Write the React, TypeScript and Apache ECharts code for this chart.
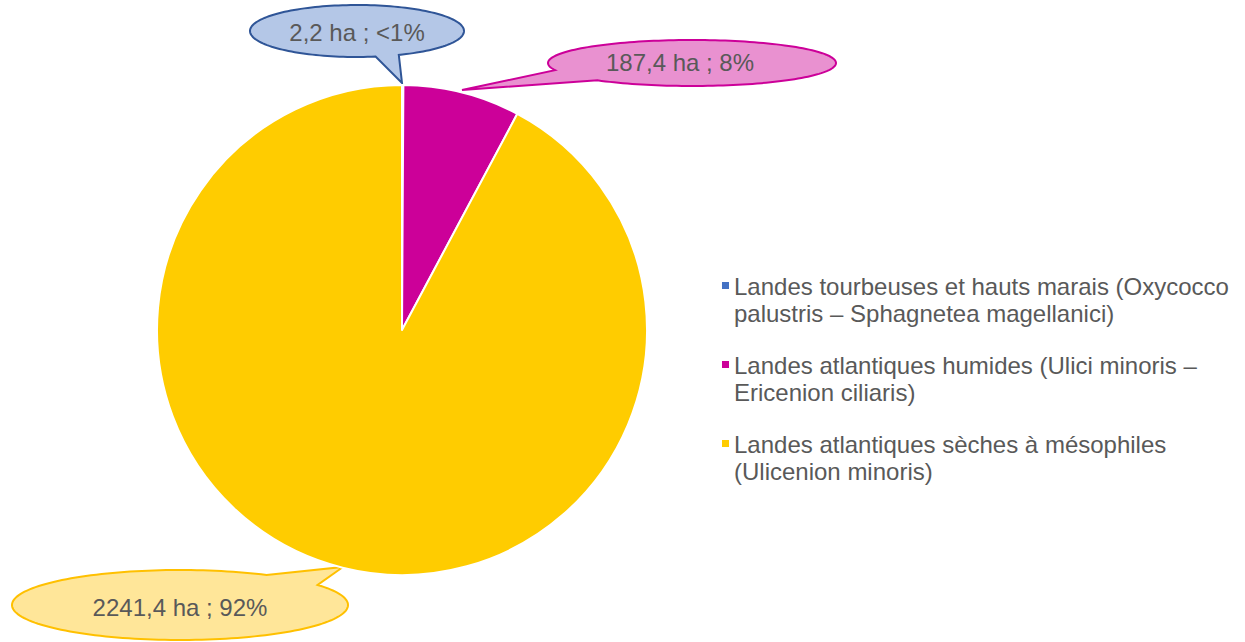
import React, { useEffect, useRef } from "react";
import * as echarts from "echarts";

const names = [
  "Landes tourbeuses et hauts marais (Oxycocco palustris – Sphagnetea magellanici)",
  "Landes atlantiques humides (Ulici minoris – Ericenion ciliaris)",
  "Landes atlantiques sèches à mésophiles (Ulicenion minoris)",
];
const legendLines = [
  "Landes tourbeuses et hauts marais (Oxycocco\npalustris – Sphagnetea magellanici)",
  "Landes atlantiques humides (Ulici minoris –\nEricenion ciliaris)",
  "Landes atlantiques sèches à mésophiles\n(Ulicenion minoris)",
];
const areasHa = [2.2, 187.4, 2241.4];
const sliceColors = ["#4472C4", "#CC0099", "#FFCC00"];
const bubbleFills = ["#B4C7E7", "#E991D0", "#FFE699"];
const bubbleStrokes = ["#2F5597", "#CC0099", "#FFC000"];

// bubble geometry: [cx, cy, rx, ry, gapStartDeg, gapEndDeg, tipX, tipY]
const bubbles = [
  [357, 31, 107, 26, 67, 80, 402, 83],
  [692, 63, 144, 23, 131, 162, 462, 90],
  [180, 605, 168, 35, -59, -35, 343, 567],
];
// label centres inside the bubbles
const labelPos = [
  [357, 32],
  [680, 62],
  [180, 607],
];

function bubblePoints(b: number[]) {
  const [cx, cy, rx, ry, g0, g1, tx, ty] = b;
  const pts: number[][] = [];
  const start = g1;
  const end = g0 + 360;
  const n = 160;
  for (let i = 0; i <= n; i++) {
    const t = ((start + ((end - start) * i) / n) * Math.PI) / 180;
    pts.push([cx + rx * Math.cos(t), cy + ry * Math.sin(t)]);
  }
  pts.push([tx, ty]);
  return pts;
}

const total = areasHa.reduce((a, b) => a + b, 0);
function fmtLabel(v: number) {
  const pct = (v / total) * 100;
  const p = pct < 1 ? "<1%" : Math.round(pct) + "%";
  return v.toFixed(1).replace(".", ",") + " ha ; " + p;
}

export default function App() {
  const ref = useRef<HTMLDivElement>(null);
  useEffect(() => {
    document.body.style.margin = "0";
    const chart = echarts.init(ref.current!, null, { renderer: "svg" });
    const option: any = {
      animation: false,
      backgroundColor: "#ffffff",
      legend: {
        orient: "vertical",
        left: 722,
        top: 273,
        padding: 0,
        itemWidth: 7,
        itemHeight: 54,
        itemGap: 25,
        icon: "path://M0,0h7v0.01h-7Z M0,9h7v7h-7Z M0,54h7v0.01h-7Z",
        itemStyle: { borderWidth: 0 },
        data: names,
        formatter: (n: string) => legendLines[names.indexOf(n)],
        textStyle: {
          fontSize: 24,
          lineHeight: 27,
          color: "#595959",
          fontFamily: "'Liberation Sans', Arial, sans-serif",
        },
      },
      graphic: bubbles.map((b, i) => ({
        type: "polygon",
        z: 0,
        shape: { points: bubblePoints(b) },
        style: { fill: bubbleFills[i], stroke: bubbleStrokes[i], lineWidth: 2 },
      })),
      series: [
        {
          type: "pie",
          z: 10,
          center: [402, 330],
          radius: 245,
          startAngle: 90,
          clockwise: true,
          avoidLabelOverlap: false,
          itemStyle: { borderColor: "#ffffff", borderWidth: 2 },
          label: {
            show: true,
            position: "outside",
            formatter: (p: any) => fmtLabel(p.value),
            fontSize: 24,
            color: "#595959",
            fontFamily: "'Liberation Sans', Arial, sans-serif",
          },
          labelLine: { show: false },
          labelLayout: (p: any) => ({
            x: labelPos[p.dataIndex][0],
            y: labelPos[p.dataIndex][1],
            align: "center",
            verticalAlign: "middle",
          }),
          emphasis: { disabled: true },
          data: names.map((n, i) => ({
            name: n,
            value: areasHa[i],
            itemStyle: { color: sliceColors[i] },
          })),
        },
      ],
    };
    chart.setOption(option);
    return () => chart.dispose();
  }, []);
  return <div ref={ref} style={{ width: 1245, height: 642 }} />;
}
